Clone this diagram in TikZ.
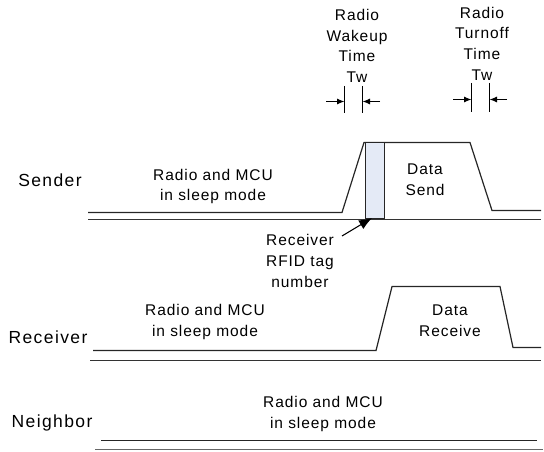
\documentclass[tikz,border=0pt]{standalone}
\usepackage{fontspec}
\setmainfont{Liberation Sans}
\newfontfamily\lblfont[LetterSpace=6]{Liberation Sans}
\newfontfamily\rowfont[LetterSpace=8]{Liberation Sans}
\usetikzlibrary{arrows.meta}
\definecolor{tagfill}{RGB}{228,234,246}
\begin{document}
\begin{tikzpicture}[x=1bp,y=-1bp,
  sig/.style={line width=1.2bp,draw=black!85,line join=miter},
  base/.style={line width=1.2bp,draw=black!80},
  txt/.style={align=center,inner sep=0pt,font=\lblfont\fontsize{15.5bp}{20.7bp}\selectfont},
  rowlbl/.style={inner sep=0pt,font=\rowfont\fontsize{17.5bp}{20bp}\selectfont},
  twline/.style={line width=1.1bp},
  twarrow/.style={line width=1bp,-{Latex[length=7.5bp,width=6bp]}},
  callout/.style={line width=1.1bp,-{Latex[length=13bp,width=10bp]}}]
\useasboundingbox (0,0) rectangle (544,452);
% ---------- Sender ----------
\node[rowlbl] (sender) at (50,180) {Sender};
\node[txt] (ssleep) at (213,186.5) {Radio and MCU\\in sleep mode};
\draw[sig] (88,212.5) -- (342,212.5) -- (364,142.5) -- (470,142.5) -- (492,210.5) -- (541,210.5);
\draw[base] (88,219.5) -- (541,219.5);
\node[draw=black!85,line width=1bp,fill=tagfill,minimum width=19bp,minimum height=75bp,inner sep=0pt,anchor=north west] (tag) at (365,142.5) {};
\node[txt] (dsend) at (425,180) {Data\\Send};
% Wakeup time
\node[txt] (wake) at (357,46) {Radio\\Wakeup\\Time\\Tw};
\coordinate (w1t) at (344.5,86); \coordinate (w1b) at (344.5,113);
\coordinate (w2t) at (362.5,86); \coordinate (w2b) at (362.5,113);
\draw[twline] (w1t) -- (w1b);
\draw[twline] (w2t) -- (w2b);
\coordinate (wa1) at (326,101.5); \coordinate (wa1e) at (344.5,101.5);
\coordinate (wa2) at (380,101.5); \coordinate (wa2e) at (362.5,101.5);
\draw[twarrow] (wa1) -- (wa1e);
\draw[twarrow] (wa2) -- (wa2e);
% Turnoff time
\node[txt] (turn) at (482,43.5) {Radio\\Turnoff\\Time\\Tw};
\coordinate (t1t) at (471.5,83); \coordinate (t1b) at (471.5,112);
\coordinate (t2t) at (489.5,83); \coordinate (t2b) at (489.5,112);
\draw[twline] (t1t) -- (t1b);
\draw[twline] (t2t) -- (t2b);
\coordinate (ta1) at (453,99.5); \coordinate (ta1e) at (471.5,99.5);
\coordinate (ta2) at (507,99.5); \coordinate (ta2e) at (489.5,99.5);
\draw[twarrow] (ta1) -- (ta1e);
\draw[twarrow] (ta2) -- (ta2e);
% RFID callout
\node[txt] (rfid) at (300,261) {Receiver\\RFID tag\\number};
\coordinate (tail) at (342,236);
\coordinate (tip) at (372,218);
\draw[callout] (tail) -- (tip);
% ---------- Receiver ----------
\node[rowlbl] (receiver) at (48,337) {Receiver};
\node[txt] (rsleep) at (205,322) {Radio and MCU\\in sleep mode};
\draw[sig] (93,350.5) -- (376,350.5) -- (392,286.5) -- (500,286.5) -- (513,347.5) -- (541,347.5);
\draw[base] (90,360.5) -- (541,360.5);
\node[txt] (drecv) at (450,321) {Data\\Receive};
% ---------- Neighbor ----------
\node[rowlbl] (neighbor) at (52,423) {Neighbor};
\node[txt] (nsleep) at (323,414) {Radio and MCU\\in sleep mode};
\draw[sig] (101,440.5) -- (537,440.5);
\draw[base,draw=black!60,line width=1.6bp] (95,449.5) -- (543,449.5);
\end{tikzpicture}
\end{document}
